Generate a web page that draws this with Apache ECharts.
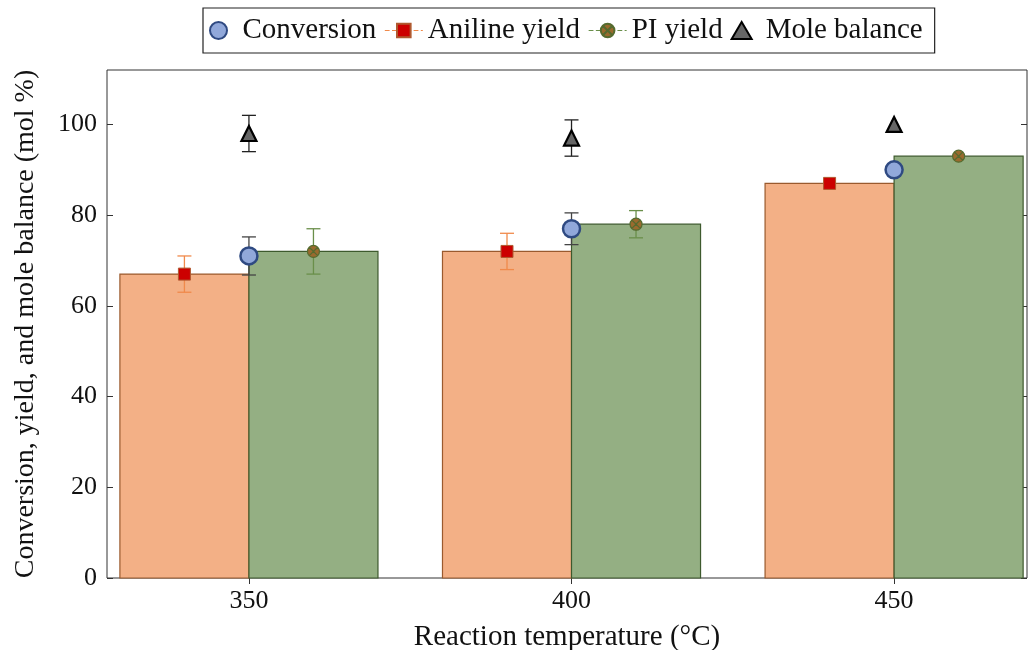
<!DOCTYPE html>
<html>
<head>
<meta charset="utf-8">
<script src="https://cdn.jsdelivr.net/npm/echarts@6/dist/echarts.min.js"></script>
<style>
  html, body { margin: 0; padding: 0; background: #fff; }
  #chart { width: 1030px; height: 650px; }
</style>
</head>
<body>
<div id="chart"></div>
<script>
// data
const temps = [350, 400, 450];
const conversion = [71, 77, 90];
const conversionErr = [4.2, 3.5, 0];
const anilineYield = [67, 72, 87];
const anilineErr = [4, 4, 0];
const piYield = [72, 78, 93];
const piErr = [5, 3, 0];
const moleBalance = [98, 97, 100];
const moleErr = [4, 4, 0];
const yTicks = [0, 20, 40, 60, 80, 100];

const FONT = 'Liberation Serif';
const COLORS = {
  orangeBar: '#F3B086',
  orangeEdge: '#9A5A2E',
  greenBar: '#94AF83',
  greenEdge: '#3E5A2E',
  convFill: '#91A8DA',
  convEdge: '#2F4A82',
  anilineFill: '#CC0000',
  anilineEdge: '#B05A30',
  anilineLine: '#F08A4B',
  piFill: '#9A6A2E',
  piEdge: '#556B2F',
  piLine: '#6A8F4A',
  triFill: '#666666'
};
const BAR_W = 20;   // bar width in x units
const OFFSET = 10;  // aniline / PI marker offset in x units

const CROSS_CIRCLE = 'path://M0,10A10,10 0 1,1 20,10A10,10 0 1,1 0,10Z M3,3L17,17M17,3L3,17';
const TRIANGLE = 'path://M10,0L20,17L0,17Z';

function barSeries(name, values, shift, fill, edge) {
  return {
    type: 'custom',
    name: name + ' bar',
    z: 1,
    silent: true,
    data: temps.map((t, i) => [t, values[i]]),
    renderItem: function (params, api) {
      const x = api.value(0) + shift;
      const p0 = api.coord([x, 0]);
      const p1 = api.coord([x + BAR_W, api.value(1)]);
      return {
        type: 'rect',
        shape: { x: p0[0], y: p1[1], width: p1[0] - p0[0], height: p0[1] - p1[1] },
        style: { fill: fill, stroke: edge, lineWidth: 1.2 }
      };
    }
  };
}

function errSeries(name, values, errs, shift, color) {
  return {
    type: 'custom',
    name: name + ' err',
    z: 3,
    silent: true,
    data: temps.map((t, i) => [t + shift, values[i] - errs[i], values[i] + errs[i]]).filter(d => d[2] > d[1]),
    renderItem: function (params, api) {
      const lo = api.coord([api.value(0), api.value(1)]);
      const hi = api.coord([api.value(0), api.value(2)]);
      const w = 7;
      const st = { stroke: color, lineWidth: 1.3 };
      return {
        type: 'group',
        children: [
          { type: 'line', shape: { x1: lo[0], y1: lo[1], x2: hi[0], y2: hi[1] }, style: st },
          { type: 'line', shape: { x1: lo[0] - w, y1: lo[1], x2: lo[0] + w, y2: lo[1] }, style: st },
          { type: 'line', shape: { x1: hi[0] - w, y1: hi[1], x2: hi[0] + w, y2: hi[1] }, style: st }
        ]
      };
    }
  };
}

const chart = echarts.init(document.getElementById('chart'));
chart.setOption({
  animation: false,
  textStyle: { fontFamily: FONT },
  grid: {
    left: 107, right: 3, top: 70, bottom: 72,
    outerBoundsMode: 'none',
    containLabel: false,
    show: true, borderColor: '#333', borderWidth: 1
  },
  legend: {
    left: 203,
    top: 8,
    padding: [8, 12, 8, 6],
    itemGap: 8,
    itemWidth: 38,
    itemHeight: 17,
    borderColor: '#222',
    borderWidth: 1.2,
    textStyle: { fontFamily: FONT, fontSize: 29, color: '#111' },
    data: [
      { name: 'Conversion' },
      { name: 'Aniline yield', lineStyle: { opacity: 1, type: 'dashed', color: COLORS.anilineLine, width: 1.2 } },
      { name: 'PI yield', lineStyle: { opacity: 1, type: 'dashed', color: COLORS.piLine, width: 1.2 } },
      { name: 'Mole balance', icon: TRIANGLE }
    ]
  },
  xAxis: [{
    type: 'value',
    min: 328,
    max: 470.6,
    name: 'Reaction temperature (°C)',
    nameLocation: 'middle',
    nameGap: 45,
    nameTextStyle: { fontFamily: FONT, fontSize: 29, color: '#111' },
    axisLine: { show: false },
    splitLine: { show: false },
    axisTick: { inside: true, length: 6, customValues: temps, lineStyle: { color: '#333' } },
    axisLabel: { customValues: temps, fontFamily: FONT, fontSize: 26, color: '#111', margin: 10 }
  }, {
    type: 'value',
    position: 'top',
    min: 328,
    max: 470.6,
    axisLine: { show: false },
    splitLine: { show: false },
    axisTick: { inside: true, length: 6, customValues: temps, lineStyle: { color: '#333' } },
    axisLabel: { show: false }
  }],
  yAxis: [{
    type: 'value',
    min: 0,
    max: 112,
    name: 'Conversion, yield, and mole balance (mol %)',
    nameLocation: 'middle',
    nameGap: 67,
    nameTextStyle: { fontFamily: FONT, fontSize: 28, color: '#111' },
    axisLine: { show: false },
    splitLine: { show: false },
    axisTick: { inside: true, length: 6, customValues: yTicks, lineStyle: { color: '#333' } },
    axisLabel: { customValues: yTicks, fontFamily: FONT, fontSize: 26, color: '#111', margin: 10 }
  }, {
    type: 'value',
    position: 'right',
    min: 0,
    max: 112,
    axisLine: { show: false },
    splitLine: { show: false },
    axisTick: { inside: true, length: 6, customValues: yTicks, lineStyle: { color: '#333' } },
    axisLabel: { show: false }
  }],
  series: [
    barSeries('Aniline', anilineYield, -BAR_W, COLORS.orangeBar, COLORS.orangeEdge),
    barSeries('PI', piYield, 0, COLORS.greenBar, COLORS.greenEdge),
    errSeries('Conversion', conversion, conversionErr, 0, '#444'),
    errSeries('Aniline', anilineYield, anilineErr, -OFFSET, COLORS.anilineLine),
    errSeries('PI', piYield, piErr, OFFSET, COLORS.piLine),
    errSeries('Mole', moleBalance, moleErr, 0, '#222'),
    {
      type: 'scatter',
      name: 'Conversion',
      z: 5,
      data: temps.map((t, i) => [t, conversion[i]]),
      symbol: 'circle',
      symbolSize: 17,
      itemStyle: { color: COLORS.convFill, borderColor: COLORS.convEdge, borderWidth: 2.5, opacity: 1 }
    },
    {
      type: 'line',
      name: 'Aniline yield',
      z: 5,
      data: temps.map((t, i) => [t - OFFSET, anilineYield[i]]),
      symbol: 'rect',
      symbolSize: 12,
      showAllSymbol: true,
      lineStyle: { opacity: 0 },
      itemStyle: { color: COLORS.anilineFill, borderColor: COLORS.anilineEdge, borderWidth: 1 }
    },
    {
      type: 'line',
      name: 'PI yield',
      z: 5,
      data: temps.map((t, i) => [t + OFFSET, piYield[i]]),
      symbol: CROSS_CIRCLE,
      symbolSize: 12,
      showAllSymbol: true,
      lineStyle: { opacity: 0 },
      itemStyle: { color: COLORS.piFill, borderColor: COLORS.piEdge, borderWidth: 1.2 }
    },
    {
      type: 'scatter',
      name: 'Mole balance',
      z: 5,
      data: temps.map((t, i) => [t, moleBalance[i]]),
      symbol: 'triangle',
      symbolSize: 15,
      itemStyle: { color: COLORS.triFill, borderColor: '#000', borderWidth: 2.2, opacity: 1 }
    }
  ]
});
</script>
</body>
</html>
